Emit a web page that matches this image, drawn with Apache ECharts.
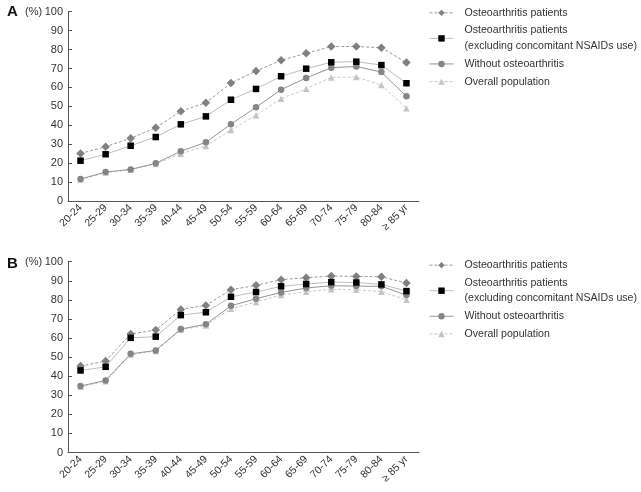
<!DOCTYPE html>
<html>
<head>
<meta charset="utf-8">
<script src="https://cdn.jsdelivr.net/npm/echarts@6/dist/echarts.min.js"></script>
<style>html,body{margin:0;padding:0;background:#fff}#c{width:641px;height:492px}</style>
</head>
<body>
<div id="c"></div>
<script>
const categories = ['20-24','25-29','30-34','35-39','40-44','45-49','50-54','55-59','60-64','65-69','70-74','75-79','80-84','\u2265 85 yr'];
const yTicks = [0,10,20,30,40,50,60,70,80,90,100];
const seriesNames = ['Osteoarthritis patients','Osteoarthritis patients (excluding concomitant NSAIDs use)','Without osteoarthritis','Overall population'];

// Panel A
const aOA      = [25.1, 28.7, 33.1, 38.7, 47.4, 51.9, 62.3, 68.7, 74.3, 78.0, 81.6, 81.6, 81.0, 73.1];
const aOAexcl  = [21.3, 24.7, 29.2, 33.8, 40.5, 44.7, 53.5, 59.2, 65.9, 69.9, 73.3, 73.6, 71.8, 62.2];
const aNoOA    = [11.6, 15.3, 16.7, 19.9, 26.3, 31.0, 40.6, 49.5, 58.8, 65.0, 70.4, 71.1, 68.1, 55.3];
const aOverall = [11.3, 15.0, 16.5, 19.6, 25.0, 29.1, 37.5, 45.3, 54.0, 59.3, 65.3, 65.5, 61.3, 49.0];

// Panel B
const bOA      = [45.3, 47.9, 62.1, 64.2, 75.0, 77.1, 85.3, 87.6, 90.6, 91.6, 92.5, 92.3, 92.1, 88.8];
const bOAexcl  = [43.0, 44.9, 60.1, 60.7, 72.0, 73.5, 81.6, 84.1, 87.1, 88.3, 89.3, 89.1, 88.1, 84.6];
const bNoOA    = [34.8, 37.8, 51.7, 53.5, 64.7, 67.2, 76.9, 80.6, 83.9, 86.2, 87.4, 87.2, 87.1, 82.5];
const bOverall = [34.5, 37.4, 51.3, 53.2, 64.3, 66.6, 75.3, 78.9, 82.5, 84.3, 85.5, 85.3, 84.3, 80.1];

const FONT = 'Liberation Sans';
const styles = {
  [seriesNames[0]]: {symbol:'diamond', symbolSize:8.5, itemStyle:{color:'#808080'}, lineStyle:{color:'#9a9a9a', width:1, type:[3,2]}},
  [seriesNames[1]]: {symbol:'rect', symbolSize:6.5, itemStyle:{color:'#000'}, lineStyle:{color:'#bdbdbd', width:1, type:'solid'}},
  [seriesNames[2]]: {symbol:'circle', symbolSize:6.5, itemStyle:{color:'#858585'}, lineStyle:{color:'#959595', width:1, type:'solid'}},
  [seriesNames[3]]: {symbol:'triangle', symbolSize:6.5, itemStyle:{color:'#c4c4c4'}, lineStyle:{color:'#c8c8c8', width:1, type:[3,2]}}
};

function mk(name, data, idx){
  const s = styles[name];
  return Object.assign({type:'line', name, data, xAxisIndex:idx, yAxisIndex:idx, showSymbol:true, z: 2}, s);
}

const series = [];
[[aOverall,aNoOA,aOA,aOAexcl],[bOverall,bNoOA,bOA,bOAexcl]].forEach((arr, i) => {
  series.push(mk(seriesNames[3], arr[0], i));
  series.push(mk(seriesNames[2], arr[1], i));
  series.push(mk(seriesNames[0], arr[2], i));
  series.push(mk(seriesNames[1], arr[3], i));
});

function xAx(gi){
  return {type:'category', gridIndex:gi, data:categories, boundaryGap:true,
    axisLine:{lineStyle:{color:'#555', width:1}},
    axisTick:{alignWithLabel:true, inside:true, length:4, lineStyle:{color:'#555'}},
    axisLabel:{rotate:45, fontFamily:FONT, fontSize:10.5, color:'#333', margin:5, interval:0}};
}
function yAx(gi){
  return {type:'value', gridIndex:gi, min:0, max:100, interval:10,
    axisLine:{show:true, lineStyle:{color:'#555', width:1}},
    axisTick:{show:true, inside:true, length:4, lineStyle:{color:'#555'}},
    splitLine:{show:false},
    axisLabel:{fontFamily:FONT, fontSize:11, color:'#333', margin:5}};
}
function legend(top){
  return {orient:'vertical', left:429, top:top, padding:0, itemWidth:24, itemHeight:8, itemGap:2,
    data: seriesNames,
    lineStyle:{width:1},
    formatter: n => n === seriesNames[1] ? 'Osteoarthritis patients\n(excluding concomitant NSAIDs use)' : n,
    textStyle:{fontFamily:FONT, fontSize:10.6, color:'#333', lineHeight:15.7, padding:[0,0,0,6]}};
}

const chart = echarts.init(document.getElementById('c'), null, {renderer:'canvas'});
chart.setOption({
  animation:false,
  grid:[{left:68, top:11.7, width:351, height:189.3, containLabel:false},
        {left:68, top:261.7, width:351, height:190.8, containLabel:false}],
  xAxis:[xAx(0), xAx(1)],
  yAxis:[yAx(0), yAx(1)],
  legend:[legend(5), legend(257.3)],
  graphic:[
    {type:'text', left:7, top:4, style:{text:'A', font:'bold 15px ' + FONT, fill:'#111'}},
    {type:'text', left:25, top:6, style:{text:'(%)', font:'11px ' + FONT, fill:'#333'}},
    {type:'text', left:7, top:256, style:{text:'B', font:'bold 15px ' + FONT, fill:'#111'}},
    {type:'text', left:25, top:256, style:{text:'(%)', font:'11px ' + FONT, fill:'#333'}}
  ],
  series: series
});
</script>
</body>
</html>
